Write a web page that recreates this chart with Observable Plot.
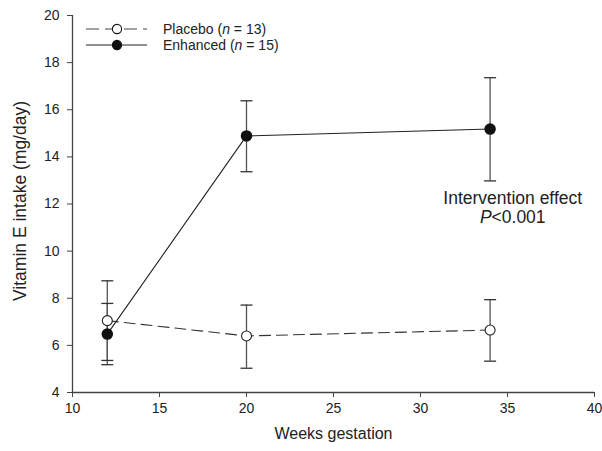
<!DOCTYPE html>
<html><head><meta charset="utf-8">
<script src="https://cdn.jsdelivr.net/npm/d3@7"></script>
<script src="https://cdn.jsdelivr.net/npm/@observablehq/plot@0.6"></script>
<style>
body{margin:0;background:#fff;font-family:"Liberation Sans",Arial,Helvetica,sans-serif}
#wrap{position:relative;width:602px;height:451px}
#legend{position:absolute;left:86px;top:21px;font-size:14px;color:#222;line-height:16px}
#legend .row{display:flex;align-items:center;height:16px}
#legend svg{margin-right:16px}
</style></head><body>
<div id="wrap"><div id="legend"></div></div>
<script>
const weeks = [12, 20, 34];
const placeboMean = [7.05, 6.4, 6.65];
const placeboLow = [5.36, 5.03, 5.33];
const placeboHigh = [8.74, 7.71, 7.94];
const enhancedMean = [6.48, 14.89, 15.18];
const enhancedLow = [5.18, 13.37, 12.98];
const enhancedHigh = [7.78, 16.38, 17.36];
const seriesNames = ["Placebo", "Enhanced"];
const groupSizes = [13, 15];
const xTicks = [10, 15, 20, 25, 30, 35, 40];
const yTicks = [4, 6, 8, 10, 12, 14, 16, 18, 20];
const xLabel = "Weeks gestation";
const yLabel = "Vitamin E intake (mg/day)";
const annotLines = ["Intervention effect", "P<0.001"];
const annotX = [35.3];
const annotY = [11.85];

const placebo = weeks.map((w, i) => ({x: w, y: placeboMean[i], lo: placeboLow[i], hi: placeboHigh[i]}));
const enhanced = weeks.map((w, i) => ({x: w, y: enhancedMean[i], lo: enhancedLow[i], hi: enhancedHigh[i]}));
const caps = [...placebo, ...enhanced].flatMap(d => [{x: d.x, y: d.lo}, {x: d.x, y: d.hi}]);
const capSymbol = {draw(ctx, size) { const r = Math.sqrt(size / Math.PI); ctx.moveTo(-r, 0); ctx.lineTo(r, 0); }};
const font = '"Liberation Sans", Arial, Helvetica, sans-serif';

const chart = Plot.plot({
  width: 602, height: 451,
  marginLeft: 72, marginRight: 8, marginTop: 15, marginBottom: 59,
  x: {domain: [10, 40]},
  y: {domain: [4, 20]},
  style: {fontFamily: font, fontSize: "14px", color: "#222", background: "white"},
  marks: [
    Plot.axisX({ticks: xTicks, tickSize: 5, tickPadding: 6, label: null, stroke: "#444"}),
    Plot.axisY({ticks: yTicks, tickSize: 5, tickPadding: 8, label: null, stroke: "#444"}),
    Plot.ruleX([10], {stroke: "#444", strokeWidth: 1.3}),
    Plot.ruleY([4], {stroke: "#444", strokeWidth: 1.3}),
    Plot.text([xLabel], {frameAnchor: "bottom", dy: 46, fontSize: 16, fill: "#222"}),
    Plot.text([yLabel], {frameAnchor: "left", textAnchor: "middle", rotate: -90, dx: -52, dy: -3, fontSize: 17.5, fill: "#222"}),
    Plot.ruleX(placebo, {x: "x", y1: "lo", y2: "hi", stroke: "#555", strokeWidth: 1.3}),
    Plot.ruleX(enhanced, {x: "x", y1: "lo", y2: "hi", stroke: "#555", strokeWidth: 1.3}),
    Plot.dot(caps, {x: "x", y: "y", symbol: capSymbol, r: 6, stroke: "#333", strokeWidth: 1.3}),
    Plot.line(placebo, {x: "x", y: "y", stroke: "#333", strokeWidth: 1.1, strokeDasharray: "11,6"}),
    Plot.line(enhanced, {x: "x", y: "y", stroke: "#222", strokeWidth: 1.1}),
    Plot.dot(placebo, {x: "x", y: "y", r: 5, fill: "white", stroke: "#222", strokeWidth: 1.1}),
    Plot.dot(enhanced, {x: "x", y: "y", r: 5, fill: "#111", stroke: "#111"}),
    Plot.text([annotLines.join("\n")], {x: annotX, y: annotY, fontSize: 17.5, lineHeight: 1.1, fill: "#222"})
  ]
});
document.getElementById("wrap").appendChild(chart);
chart.style.position = "absolute"; chart.style.left = "0"; chart.style.top = "0";
document.getElementById("legend").style.zIndex = 2;

// italicize the P in the annotation
chart.querySelectorAll("tspan").forEach(t => {
  if (t.textContent === annotLines[1]) {
    t.textContent = "";
    const it = document.createElementNS("http://www.w3.org/2000/svg", "tspan");
    it.setAttribute("font-style", "italic");
    it.textContent = annotLines[1].slice(0, 1);
    t.appendChild(it);
    t.appendChild(document.createTextNode(annotLines[1].slice(1)));
  }
});

// legend
const legend = document.getElementById("legend");
seriesNames.forEach((name, i) => {
  const row = document.createElement("div");
  row.className = "row";
  const dashed = i === 0;
  row.innerHTML = `<svg width="61" height="14"><line x1="0" x2="61" y1="7" y2="7" stroke="${dashed ? '#444' : '#222'}" stroke-width="1.1" ${dashed ? 'stroke-dasharray="13,6"' : ''}/><circle cx="31" cy="7" r="4.6" fill="${dashed ? 'white' : '#111'}" stroke="#111" stroke-width="1.1"/></svg><span>${name} (<i>n</i> = ${groupSizes[i]})</span>`;
  legend.appendChild(row);
});
</script>
</body></html>
